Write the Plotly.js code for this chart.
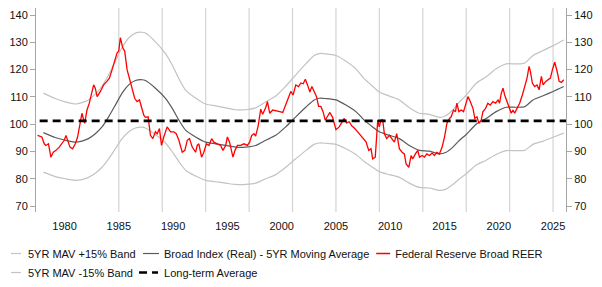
<!DOCTYPE html>
<html>
<head>
<meta charset="utf-8">
<script src="https://cdn.plot.ly/plotly-3.0.1.min.js"></script>
<style>html,body{margin:0;padding:0;background:#fff;}#chart{width:602px;height:287px;}</style>
</head>
<body>
<div id="chart"></div>
<script>
// Federal Reserve Broad REER (monthly-ish readings)
const reerTime = [1977.51,1977.91,1978.13,1978.28,1978.52,1978.74,1978.96,1979.21,1979.51,1979.76,1979.97,1980.13,1980.28,1980.5,1980.74,1980.99,1981.2,1981.36,1981.51,1981.6,1981.85,1982.07,1982.28,1982.47,1982.68,1982.83,1983.0,1983.3,1983.6,1983.9,1984.13,1984.38,1984.62,1984.84,1984.99,1985.14,1985.36,1985.54,1985.76,1985.97,1986.22,1986.46,1986.68,1986.9,1987.08,1987.3,1987.45,1987.7,1987.91,1988.13,1988.37,1988.53,1988.74,1988.93,1989.14,1989.45,1989.76,1990.06,1990.29,1990.53,1990.84,1991.08,1991.3,1991.51,1991.76,1992.07,1992.22,1992.37,1992.62,1992.83,1993.06,1993.3,1993.55,1993.76,1994.07,1994.38,1994.59,1994.84,1995.0,1995.2,1995.51,1995.7,1995.92,1996.22,1996.53,1996.84,1997.05,1997.24,1997.45,1997.6,1997.84,1998.07,1998.25,1998.53,1998.69,1998.9,1999.17,1999.52,1999.82,2000.1,2000.44,2000.63,2000.84,2001.05,2001.3,2001.55,2001.76,2001.98,2002.18,2002.38,2002.6,2002.78,2002.99,2003.21,2003.4,2003.61,2003.82,2004.01,2004.23,2004.44,2004.69,2005.0,2005.3,2005.55,2005.76,2005.98,2006.22,2006.47,2006.69,2007.0,2007.3,2007.52,2007.77,2008.02,2008.23,2008.38,2008.62,2008.85,2008.99,2009.15,2009.3,2009.46,2009.68,2009.92,2010.17,2010.38,2010.6,2010.84,2011.09,2011.3,2011.46,2011.71,2011.92,2012.08,2012.32,2012.54,2012.69,2012.94,2013.15,2013.37,2013.61,2013.86,2014.07,2014.29,2014.53,2014.78,2015.0,2015.22,2015.46,2015.61,2015.83,2016.01,2016.14,2016.32,2016.54,2016.75,2016.93,2017.16,2017.37,2017.62,2017.79,2017.99,2018.17,2018.38,2018.54,2018.78,2018.99,2019.21,2019.46,2019.7,2019.93,2020.07,2020.23,2020.39,2020.54,2020.76,2020.94,2021.15,2021.31,2021.46,2021.68,2021.92,2022.17,2022.38,2022.6,2022.79,2022.91,2023.09,2023.3,2023.52,2023.71,2023.92,2024.08,2024.32,2024.54,2024.75,2024.94,2025.15,2025.37,2025.56,2025.77,2025.98];
const reerValues = [95.9,95.3,92.8,92.2,92.8,87.9,89.7,90.4,91.6,92.8,94.1,95.9,94.1,91.6,91.0,92.8,95.3,99.0,101.5,104.0,100.3,105.2,107.7,111.4,114.4,113.2,110.1,112.0,114.4,115.7,116.9,120.0,123.7,126.2,126.8,131.7,128.0,126.8,120.0,116.9,112.6,109.5,108.3,108.9,106.4,103.3,102.5,102.7,95.9,94.7,97.2,96.5,98.4,92.2,95.3,99.0,97.2,97.2,96.5,94.1,89.7,90.4,94.1,94.7,91.6,89.7,92.2,92.8,87.9,89.7,92.8,92.2,94.7,93.4,92.8,92.2,90.4,92.2,95.3,93.4,87.9,90.4,92.2,92.2,92.8,92.2,93.4,95.9,96.5,95.6,99.5,105.5,103.6,106.1,108.3,104.0,105.2,105.0,104.6,104.3,107.7,109.2,112.0,110.7,114.4,113.8,115.1,114.8,116.5,114.4,111.8,113.8,112.0,110.1,106.5,106.5,104.5,101.5,102.9,104.3,102.5,98.0,99.0,100.9,102.1,100.5,100.9,99.3,98.6,97.2,95.9,94.7,93.5,90.4,91.0,87.3,87.9,101.5,99.0,101.5,101.7,96.5,94.7,95.9,94.7,93.4,96.5,91.0,89.7,89.1,85.4,84.2,88.5,87.3,89.1,90.4,87.9,88.5,87.9,89.1,88.5,89.4,88.5,89.7,89.1,91.6,95.3,100.3,102.1,102.7,105.2,104.6,107.7,104.6,105.2,104.6,107.0,110.1,108.3,105.8,102.1,102.7,100.3,101.5,104.6,105.8,107.7,107.0,108.3,107.7,108.9,107.7,111.4,113.2,110.7,108.3,107.0,104.0,105.2,104.0,105.8,107.7,110.7,113.8,116.9,121.2,119.4,115.1,113.8,114.4,112.6,117.5,114.4,115.7,116.3,116.9,120.0,122.7,119.4,115.7,115.3,116.3];

// Broad Index (Real) - 5YR Moving Average and its bands
const maTime = [1978.05,1979.14,1980.06,1981.0,1981.6,1982.2,1982.83,1983.45,1984.06,1984.68,1985.3,1985.91,1986.53,1987.15,1987.45,1988.37,1989.3,1989.92,1990.53,1991.15,1992.07,1993.0,1993.92,1994.84,1995.76,1996.68,1997.6,1998.53,1999.45,2000.37,2001.3,2002.22,2002.99,2003.45,2004.07,2005.0,2005.92,2006.84,2007.6,2008.38,2008.99,2009.92,2010.84,2011.76,2012.69,2013.61,2014.53,2015.15,2015.77,2016.38,2017.0,2017.92,2018.84,2019.76,2020.69,2021.61,2022.38,2023.15,2024.08,2025.0,2025.98];
const maValues = [96.9,95.1,94.1,93.4,93.8,94.7,96.5,99.0,102.7,107.0,111.4,114.4,116.0,116.3,116.0,113.2,109.5,105.8,101.5,97.8,95.3,93.4,92.8,92.2,91.6,91.6,92.2,94.1,95.9,99.0,102.7,106.2,108.9,109.5,109.4,108.9,107.0,104.6,101.5,99.0,97.2,95.9,94.7,92.2,90.4,90.1,89.1,89.7,91.6,94.1,96.2,100.0,102.1,104.6,106.2,106.2,106.4,108.9,110.4,112.0,113.8];
const upperBand = [111.4,109.4,108.2,107.4,107.9,108.9,111.0,113.9,118.1,123.1,128.1,131.6,133.4,133.7,133.4,130.2,125.9,121.7,116.7,112.5,109.6,107.4,106.7,106.0,105.3,105.3,106.0,108.2,110.3,113.9,118.1,122.1,125.2,125.9,125.8,125.2,123.1,120.3,116.7,113.9,111.8,110.3,108.9,106.0,104.0,103.6,102.5,103.2,105.3,108.2,110.6,115.0,117.4,120.3,122.1,122.1,122.4,125.2,127.0,128.8,130.9];
const lowerBand = [82.4,80.8,80.0,79.4,79.7,80.5,82.0,84.2,87.3,91.0,94.7,97.2,98.6,98.9,98.6,96.2,93.1,89.9,86.3,83.1,81.0,79.4,78.9,78.4,77.9,77.9,78.4,80.0,81.5,84.2,87.3,90.3,92.6,93.1,93.0,92.6,91.0,88.9,86.3,84.2,82.6,81.5,80.5,78.4,76.8,76.6,75.7,76.2,77.9,80.0,81.8,85.0,86.8,88.9,90.3,90.3,90.4,92.6,93.8,95.2,96.7];

const longTermAverage = 101.2;
const termStartYears = [1985,1989,1993,1997,2001,2005,2009,2013,2017,2021,2025];
const xTickYears = [1980,1985,1990,1995,2000,2005,2010,2015,2020,2025];
const yTicks = [70,80,90,100,110,120,130,140];

const names = {
  up: '5YR MAV +15% Band',
  lo: '5YR MAV -15% Band',
  ma: 'Broad Index (Real) - 5YR Moving Average',
  reer: 'Federal Reserve Broad REER',
  lt: 'Long-term Average'
};

const ltX = [reerTime[0] - 1, reerTime[reerTime.length - 1] + 1];

const traces = [
  {x: maTime, y: upperBand, name: names.up, mode: 'lines', line: {color: '#c3c3c3', width: 1.2, shape: 'spline', smoothing: 0.7}, legend: 'legend'},
  {x: maTime, y: lowerBand, name: names.lo, mode: 'lines', line: {color: '#c3c3c3', width: 1.2, shape: 'spline', smoothing: 0.7}, legend: 'legend'},
  {x: maTime, y: maValues, name: names.ma, mode: 'lines', line: {color: '#5a5a5a', width: 1.2, shape: 'spline', smoothing: 0.7}, legend: 'legend2'},
  {x: reerTime, y: reerValues, name: names.reer, mode: 'lines', line: {color: '#ff0000', width: 1.3}, legend: 'legend3'},
  {x: ltX, y: ltX.map(() => longTermAverage), name: names.lt, mode: 'lines', yaxis: 'y2', line: {color: '#000000', width: 2.6, dash: '8px,5px'}, legend: 'legend2'}
];

const shapes = termStartYears.map(yr => ({
  type: 'line', xref: 'x', yref: 'paper', x0: yr, x1: yr, y0: 0, y1: 1,
  line: {color: '#d4d4d4', width: 1.2}, layer: 'below'
}));

const fontFam = 'Arial, "Liberation Sans", sans-serif';
const yAxisBase = {
  range: [67.8, 142.6], tickvals: yTicks, showgrid: false, zeroline: false,
  showline: true, linecolor: '#a6a6a6', linewidth: 1, ticks: 'outside', ticklen: 5,
  tickcolor: '#a6a6a6', tickfont: {size: 11, color: '#111', family: fontFam}
};

const legendBase = {
  xref: 'paper', yref: 'container', xanchor: 'left', yanchor: 'top',
  orientation: 'v', bgcolor: 'rgba(0,0,0,0)', borderwidth: 0,
  font: {size: 11, color: '#111', family: fontFam}, itemwidth: 30, tracegroupgap: 0
};

const layout = {
  width: 602, height: 287,
  margin: {l: 36, r: 36.3, t: 8.3, b: 75.3, autoexpand: false},
  paper_bgcolor: '#ffffff', plot_bgcolor: '#ffffff',
  font: {family: fontFam, size: 11, color: '#111'},
  showlegend: true,
  hovermode: false,
  xaxis: {
    range: [1977.37, 2026.19], tickvals: xTickYears, showgrid: false, zeroline: false,
    showline: false, ticks: '', ticklabelstandoff: 6,
    tickfont: {size: 11, color: '#111', family: fontFam}
  },
  yaxis: Object.assign({}, yAxisBase, {side: 'left'}),
  yaxis2: Object.assign({}, yAxisBase, {side: 'right', overlaying: 'y'}),
  shapes: shapes,
  legend: Object.assign({}, legendBase, {x: -0.0906, y: 0.1672}),
  legend2: Object.assign({}, legendBase, {x: 0.1661, y: 0.1672}),
  legend3: Object.assign({}, legendBase, {x: 0.6022, y: 0.1672})
};

// shorter legend symbols, like the original chart's legend keys
const legendKey = {};
legendKey[names.up] = 'M23,0h10';
legendKey[names.lo] = 'M23,0h10';
legendKey[names.ma] = 'M19,0h16';
legendKey[names.lt] = 'M15,0h19';
legendKey[names.reer] = 'M21,0h14';

Plotly.newPlot('chart', traces, layout, {displayModeBar: false, staticPlot: true}).then(gd => {
  gd.querySelectorAll('g.traces').forEach(g => {
    const d = g.__data__;
    if (!d || !d[0] || !d[0].trace) return;
    const key = legendKey[d[0].trace.name];
    if (!key) return;
    g.querySelectorAll('g.legendlines path').forEach(p => p.setAttribute('d', key));
  });
});
</script>
</body>
</html>
